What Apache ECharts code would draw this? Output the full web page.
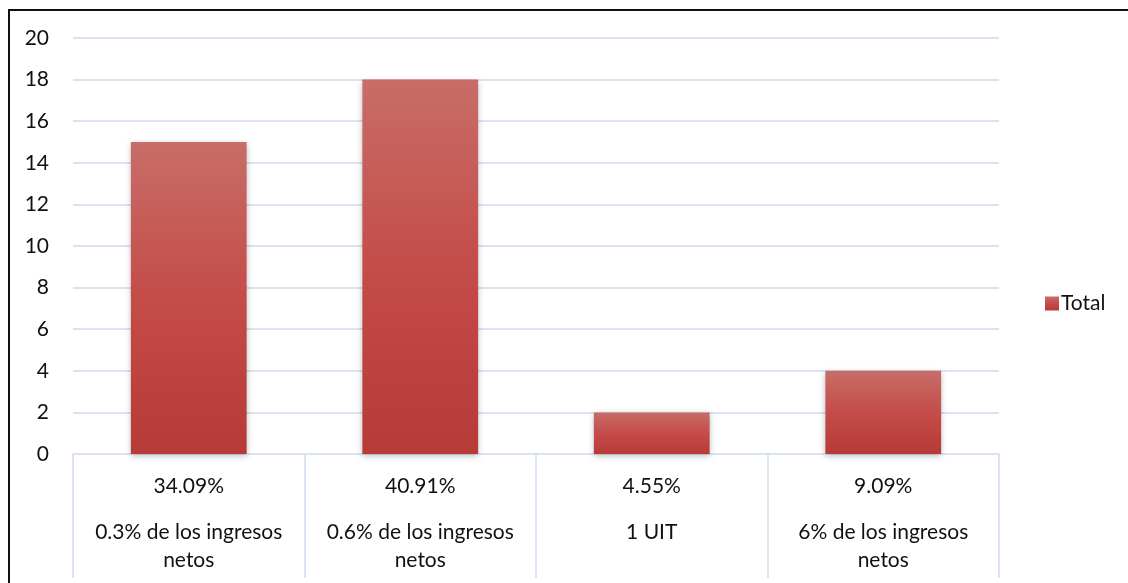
<!DOCTYPE html>
<html>
<head>
<meta charset="utf-8">
<script src="https://cdn.jsdelivr.net/npm/echarts@6/dist/echarts.min.js"></script>
<style>
  html, body { margin: 0; padding: 0; background: #fff; }
  #chart { width: 1128px; height: 583px; }
</style>
</head>
<body>
<div id="chart"></div>
<script>
// datos
const categorias = ['0.3% de los ingresos netos', '0.6% de los ingresos netos', '1 UIT', '6% de los ingresos netos'];
const porcentajes = ['34.09%', '40.91%', '4.55%', '9.09%'];
const totales = [15, 18, 2, 4];

const font = 'Lato, "Open Sans", sans-serif';
const gridColor = '#d9e3f2';

// corta el nombre en líneas de hasta 20 caracteres
function wrap(txt, max) {
  const words = txt.split(' ');
  const lines = [];
  let cur = '';
  words.forEach(w => {
    const next = cur ? cur + ' ' + w : w;
    if (next.length > max && cur) {
      lines.push(cur);
      cur = w;
    } else {
      cur = next;
    }
  });
  if (cur) lines.push(cur);
  return lines;
}

const chart = echarts.init(document.getElementById('chart'));

const barColor = new echarts.graphic.LinearGradient(0, 0, 0, 1, [
  { offset: 0, color: '#c86d68' },
  { offset: 0.5, color: '#c44c49' },
  { offset: 1, color: '#b73a37' }
]);

const option = {
  animation: false,
  backgroundColor: '#fff',
  textStyle: { fontFamily: font },
  graphic: [{
    type: 'rect',
    shape: { x: 9, y: 10, width: 1300, height: 800 },
    style: { fill: 'none', stroke: '#111', lineWidth: 2 },
    silent: true
  }],
  legend: {
    data: ['Total'],
    orient: 'vertical',
    left: 1040,
    top: 288,
    icon: 'rect',
    itemWidth: 14,
    itemHeight: 14,
    itemGap: 6,
    textStyle: { fontFamily: font, fontSize: 21, color: '#111', padding: [0, 0, 0, -3] }
  },
  grid: { left: 73, right: 129, top: 38, bottom: 129, containLabel: false },
  xAxis: {
    type: 'category',
    data: categorias,
    axisLine: { lineStyle: { color: gridColor, width: 2 } },
    axisTick: { show: true, length: 124, lineStyle: { color: gridColor, width: 2 } },
    axisLabel: {
      margin: 0,
      interval: 0,
      color: '#111',
      fontFamily: font,
      fontSize: 21,
      formatter: (v, i) => '{p|' + porcentajes[i] + '}\n' +
        wrap(v, 20).map(l => '{n|' + l + '}').join('\n'),
      rich: {
        p: { fontFamily: font, fontSize: 21, lineHeight: 64, color: '#111' },
        n: { fontFamily: font, fontSize: 21, lineHeight: 28, color: '#111' }
      }
    }
  },
  yAxis: {
    type: 'value',
    min: 0,
    max: 20,
    interval: 2,
    axisLine: { show: false },
    axisTick: { show: false },
    axisLabel: {
      margin: 24,
      color: '#111',
      fontFamily: font,
      fontSize: 21
    },
    splitLine: { lineStyle: { color: gridColor, width: 2 } }
  },
  series: [{
    name: 'Total',
    type: 'bar',
    data: totales,
    barWidth: '50%',
    itemStyle: {
      color: barColor,
      shadowBlur: 6,
      shadowColor: 'rgba(0,0,0,0.25)',
      shadowOffsetY: 2
    }
  }]
};

chart.setOption(option);
</script>
</body>
</html>
